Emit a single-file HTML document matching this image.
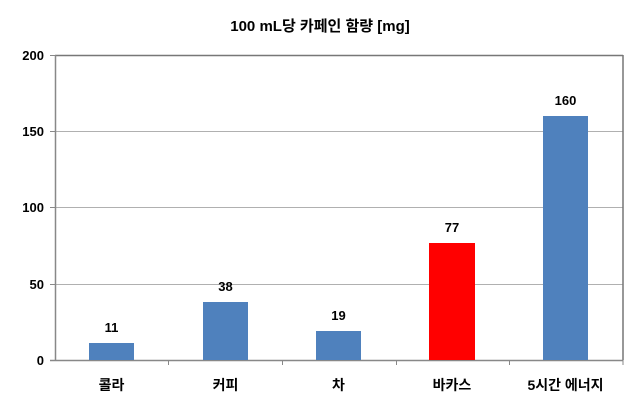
<!DOCTYPE html>
<html><head><meta charset="utf-8"><style>
body{margin:0;background:#fff;}
svg{display:block;font-family:"Liberation Sans","Noto Sans CJK KR",sans-serif;}
</style></head><body>
<svg width="640" height="413" viewBox="0 0 640 413">
<rect width="640" height="413" fill="#fff"/>
<text x="320" y="31" text-anchor="middle" font-size="15" font-weight="bold">100 mL당 카페인 함량 [mg]</text>
<g stroke="#b0b0b0" stroke-width="1">
<line x1="55" y1="131.5" x2="623" y2="131.5"/>
<line x1="55" y1="207.5" x2="623" y2="207.5"/>
<line x1="55" y1="284.5" x2="623" y2="284.5"/>
</g>
<line x1="55" y1="55.5" x2="623" y2="55.5" stroke="#777" stroke-width="1.5"/>
<line x1="623" y1="55" x2="623" y2="360" stroke="#777" stroke-width="1.5"/>
<line x1="55.5" y1="55" x2="55.5" y2="361" stroke="#888" stroke-width="1.5"/>
<line x1="50" y1="360.5" x2="623" y2="360.5" stroke="#888" stroke-width="1.5"/>
<g stroke="#888" stroke-width="1">
<line x1="50" y1="55.5" x2="55" y2="55.5"/>
<line x1="50" y1="131.5" x2="55" y2="131.5"/>
<line x1="50" y1="207.5" x2="55" y2="207.5"/>
<line x1="50" y1="284.5" x2="55" y2="284.5"/>
<line x1="168.5" y1="360" x2="168.5" y2="365"/>
<line x1="282.5" y1="360" x2="282.5" y2="365"/>
<line x1="396.5" y1="360" x2="396.5" y2="365"/>
<line x1="509.5" y1="360" x2="509.5" y2="365"/>
<line x1="623" y1="360" x2="623" y2="365"/>
</g>
<g font-size="13" font-weight="bold" text-anchor="end">
<text x="44" y="60">200</text>
<text x="44" y="136">150</text>
<text x="44" y="212">100</text>
<text x="44" y="289">50</text>
<text x="44" y="365">0</text>
</g>
<rect x="89" y="343" width="45" height="17" fill="#4f81bd"/>
<rect x="203" y="302" width="45" height="58" fill="#4f81bd"/>
<rect x="316" y="331" width="45" height="29" fill="#4f81bd"/>
<rect x="429" y="243" width="46" height="117" fill="#ff0000"/>
<rect x="543" y="116" width="45" height="244" fill="#4f81bd"/>
<g font-size="13" font-weight="bold" text-anchor="middle">
<text x="111.5" y="332">11</text>
<text x="225.5" y="291">38</text>
<text x="338.5" y="320">19</text>
<text x="452" y="232">77</text>
<text x="565.5" y="105">160</text>
</g>
<g font-size="14" font-weight="bold" text-anchor="middle">
<text x="111.5" y="390">콜라</text>
<text x="225.5" y="390">커피</text>
<text x="338.5" y="390">차</text>
<text x="452" y="390">바카스</text>
<text x="565.5" y="390">5시간 에너지</text>
</g>
</svg>
</body></html>
